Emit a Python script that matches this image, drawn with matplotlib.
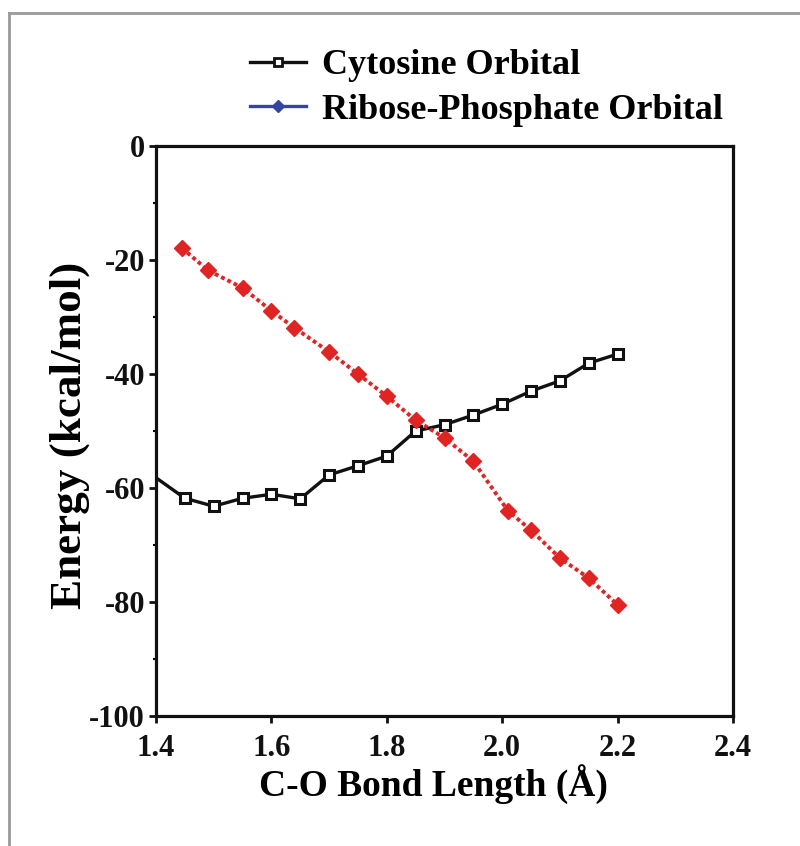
import matplotlib
matplotlib.use("Agg")
import matplotlib.pyplot as plt
from matplotlib.lines import Line2D
from matplotlib.ticker import MultipleLocator, FormatStrFormatter

plt.rcParams['font.family'] = ['Liberation Serif', 'DejaVu Serif']
plt.rcParams['font.weight'] = 'bold'
plt.rcParams['axes.unicode_minus'] = False

# Data
cyt_x = [1.40, 1.45, 1.50, 1.55, 1.60, 1.65, 1.70, 1.75, 1.80, 1.85, 1.90, 1.95, 2.00, 2.05, 2.10, 2.15, 2.20]
cyt_y = [-58.2, -61.8, -63.2, -61.8, -61.1, -61.9, -57.7, -56.1, -54.4, -50.0, -48.9, -47.2, -45.3, -43.0, -41.2, -38.1, -36.5]
rib_x = [1.445, 1.49, 1.55, 1.60, 1.64, 1.70, 1.75, 1.80, 1.85, 1.90, 1.95, 2.01, 2.05, 2.10, 2.15, 2.20]
rib_y = [-17.9, -21.8, -24.9, -28.9, -31.9, -36.1, -40.0, -43.9, -48.1, -51.2, -55.3, -64.0, -67.4, -72.3, -75.8, -80.5]
labels = ["Cytosine Orbital", "Ribose-Phosphate Orbital"]
xlabel = "C-O Bond Length (Å)"
ylabel = "Energy (kcal/mol)"

fig = plt.figure(figsize=(8.0, 8.46), dpi=100)
ax = fig.add_axes([156/800, 1-716/846, (733-156)/800, (716-146)/846])

ax.plot(cyt_x, cyt_y, color='#111111', lw=2.4, marker='s', ms=7, mfc='white',
        mec='#111111', mew=2.2, markevery=list(range(1, len(cyt_x))), clip_on=True, zorder=3)
ax.plot(rib_x, rib_y, color='#e02424', lw=2.8, ls=(0, (1, 0.8)), marker='D', ms=8.5,
        mfc='#e02424', mec='#e02424', zorder=4)

ax.set_xlim(1.4, 2.4)
ax.set_ylim(-100, 0)
ax.xaxis.set_major_locator(MultipleLocator(0.2))
ax.xaxis.set_major_formatter(FormatStrFormatter('%.1f'))
ax.yaxis.set_major_locator(MultipleLocator(20))
ax.yaxis.set_minor_locator(MultipleLocator(10))

for s in ax.spines.values():
    s.set_linewidth(2.3)
    s.set_color('#111111')

ax.tick_params(axis='both', which='major', direction='out', length=5, width=2,
               labelsize=22, color='#111111', labelcolor='#111111')
ax.tick_params(axis='y', which='minor', direction='out', length=2.5, width=1.5)
ax.tick_params(axis='x', which='major', pad=8)
ax.tick_params(axis='y', which='major', pad=3)

ax.set_xlabel(xlabel, fontsize=27, fontweight='bold')
ax.xaxis.set_label_coords((433-156)/577, (716-764)/570)
ax.set_ylabel(ylabel, fontsize=32.5, fontweight='bold')
ax.yaxis.set_label_coords((90-156)/577, (716-435)/570)

handles = [
    Line2D([], [], color='#111111', lw=2.4, marker='s', ms=6, mfc='white', mec='#111111', mew=2),
    Line2D([], [], color='#3444a0', lw=2.4, marker='D', ms=6, mfc='#3444a0', mec='#3444a0'),
]
fig.legend(handles, labels, loc='upper left', bbox_to_anchor=(250/800, 1-49/846),
           frameon=False, prop={'family': 'Liberation Serif', 'weight': 'bold', 'size': 26},
           handlelength=1.55, handletextpad=0.45, labelspacing=0.32, borderpad=0, borderaxespad=0)

# gray page border
fig.add_artist(Line2D([9/800, 9/800], [0, 1-13/846], transform=fig.transFigure, color='#999999', lw=2))
fig.add_artist(Line2D([9/800, 1], [1-13/846, 1-13/846], transform=fig.transFigure, color='#999999', lw=2))

fig.savefig('out.png', dpi=100)
